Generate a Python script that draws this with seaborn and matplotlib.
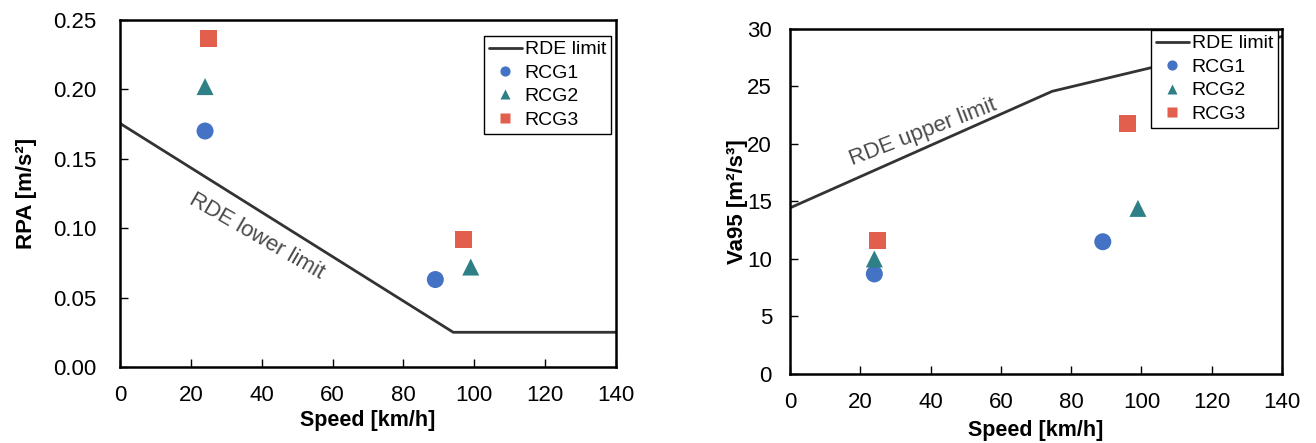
import pandas as pd
import matplotlib.pyplot as plt
import seaborn as sns

# --- data ---
groups = ["RCG1", "RCG2", "RCG3"]
rpa_speed = [24, 89, 24, 99, 25, 97]
rpa_value = [0.170, 0.063, 0.202, 0.072, 0.237, 0.092]
va95_speed = [24, 89, 24, 99, 25, 96]
va95_value = [8.7, 11.5, 10.0, 14.4, 11.6, 21.8]
point_group = ["RCG1", "RCG1", "RCG2", "RCG2", "RCG3", "RCG3"]

# RDE limit curves (break points)
rpa_lim_speed = [0, 94.05, 140]
rpa_lim_value = [0.1755, 0.025, 0.025]
va_lim_speed = [0, 74.6, 140]
va_lim_value = [14.44, 24.58, 29.35]

palette = {"RCG1": "#4472C4", "RCG2": "#2F7F86", "RCG3": "#E15F4C"}
markers = {"RCG1": "o", "RCG2": "^", "RCG3": "s"}

sns.set_style("ticks")
plt.rcParams["font.family"] = ["Liberation Sans", "DejaVu Sans"]
plt.rcParams.update({"text.color": "black", "axes.labelcolor": "black",
                     "xtick.color": "black", "ytick.color": "black"})

df_rpa = pd.DataFrame({"speed": rpa_speed, "value": rpa_value, "group": point_group})
df_va = pd.DataFrame({"speed": va95_speed, "value": va95_value, "group": point_group})
lim_rpa = pd.DataFrame({"speed": rpa_lim_speed, "value": rpa_lim_value})
lim_va = pd.DataFrame({"speed": va_lim_speed, "value": va_lim_value})

fig = plt.figure(figsize=(13.16, 4.43), dpi=100)
ax1 = fig.add_axes([0.0912, 0.1716, 0.3769, 0.7833])
ax2 = fig.add_axes([0.6003, 0.1558, 0.3739, 0.7788])


def draw(ax, df, lim, ylim, yticks, yfmt, ylabel, ypad, note, note_xy, note_rot,
         legend_anchor, xlab_y, ylab_x):
    sns.lineplot(data=lim, x="speed", y="value", color="#333333", linewidth=2,
                 label="RDE limit", ax=ax, zorder=2)
    sns.scatterplot(data=df, x="speed", y="value", hue="group", style="group",
                    hue_order=groups, style_order=groups, palette=palette,
                    markers=markers, s=150, edgecolor="none", ax=ax, zorder=3)
    ax.set_xlim(0, 140)
    ax.set_ylim(*ylim)
    ax.set_xticks(range(0, 141, 20))
    ax.set_yticks(yticks)
    ax.set_yticklabels([yfmt.format(t) for t in yticks])
    ax.tick_params(direction="in", length=6, width=1, labelsize=16)
    ax.tick_params(axis="x", pad=13)
    ax.tick_params(axis="y", pad=ypad)
    for s in ax.spines.values():
        s.set_visible(True)
        s.set_linewidth(1.8)
        s.set_color("black")
    ax.set_xlabel("Speed [km/h]", fontsize=15.5, fontweight="bold")
    ax.set_ylabel(ylabel, fontsize=16, fontweight="bold")
    ax.xaxis.set_label_coords(0.5, xlab_y)
    ax.yaxis.set_label_coords(ylab_x, 0.5)
    ax.text(note_xy[0], note_xy[1], note, rotation=note_rot, fontsize=16,
            color="#4a4a4a", ha="center", va="center", rotation_mode="anchor")
    handles, labels = ax.get_legend_handles_labels()
    leg = ax.legend(handles, labels, loc="upper right", bbox_to_anchor=legend_anchor,
                    fontsize=14, frameon=True, fancybox=False, edgecolor="black",
                    framealpha=1, borderpad=0.25, labelspacing=0.3, handlelength=1.7,
                    handletextpad=0.15, markerscale=0.6, borderaxespad=0)
    leg.get_frame().set_linewidth(1.0)
    leg.set_zorder(5)


draw(ax1, df_rpa, lim_rpa, (0, 0.25), [0, 0.05, 0.10, 0.15, 0.20, 0.25], "{:.2f}",
     "RPA [m/s²]", 17, "RDE lower limit", (38.7, 0.094), -30, (0.99, 0.954),
     -0.124, -0.167)
draw(ax2, df_va, lim_va, (0, 30), [0, 5, 10, 15, 20, 25, 30], "{:.0f}",
     "Va95 [m²/s³]", 13, "RDE upper limit", (38, 21.0), 21, (0.992, 0.997),
     -0.133, -0.085)

fig.savefig("out.png", dpi=100)
